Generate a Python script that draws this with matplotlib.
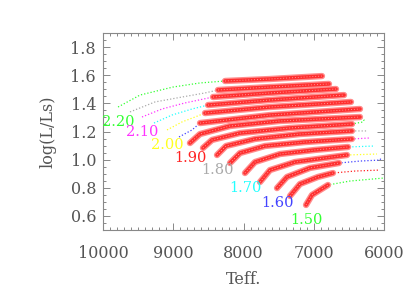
import matplotlib
matplotlib.use('Agg')
import matplotlib.pyplot as plt
from matplotlib.ticker import MultipleLocator, FixedLocator

# ---- data ----
MASSES = [2.20, 2.15, 2.10, 2.05, 2.00, 1.95, 1.90, 1.85,
          1.80, 1.75, 1.70, 1.65, 1.60, 1.55, 1.50]
LABELED = [2.20, 2.10, 2.00, 1.90, 1.80, 1.70, 1.60, 1.50]
TRACK_COLORS = ['#33ff33', '#aaaaaa', '#ff33ff', '#22ffff', '#ffff22', '#4444ff', '#ff2222',
                '#33ff33', '#aaaaaa', '#ff33ff', '#22ffff', '#ffff22', '#4444ff', '#ff2222',
                '#33ff33']

TEFF = [
    [9786, 9473, 9004, 8619, 8263, 7623, 6883],
    [9616, 9260, 8875, 8548, 8363, 7623, 6783],
    [9445, 9160, 8833, 8434, 7623, 6683],
    [9274, 9018, 8733, 8505, 7623, 6569],
    [9089, 8875, 8690, 8548, 7623, 6470],
    [8918, 8733, 8619, 7623, 6342],
    [8762, 8619, 8192, 7480, 6342],
    [8577, 8448, 8050, 7338, 6456, 6299, 6285, 6327],
    [8377, 8249, 7836, 7196, 6456, 6242],
    [8192, 8050, 7694, 7125, 6456, 6199],
    [7979, 7836, 7480, 6982, 6512, 6128],
    [7765, 7623, 7267, 6840, 6527, 6100],
    [7523, 7381, 7053, 6641, 6342, 6057, 6043],
    [7338, 7196, 6940, 6726, 6413, 6057],
    [7110, 7025, 6797, 6484, 5986],
]
LOGL = [
    [1.374, 1.459, 1.516, 1.545, 1.559, 1.573, 1.594],
    [1.339, 1.410, 1.445, 1.474, 1.495, 1.516, 1.538],
    [1.303, 1.360, 1.403, 1.445, 1.474, 1.502],
    [1.260, 1.317, 1.360, 1.388, 1.424, 1.459],
    [1.211, 1.268, 1.303, 1.331, 1.374, 1.410],
    [1.161, 1.211, 1.260, 1.317, 1.360],
    [1.118, 1.182, 1.239, 1.275, 1.303],
    [1.083, 1.140, 1.189, 1.225, 1.253, 1.268, 1.282, 1.296],
    [1.033, 1.097, 1.147, 1.182, 1.204, 1.204],
    [0.976, 1.047, 1.097, 1.125, 1.147, 1.154],
    [0.905, 0.983, 1.040, 1.069, 1.090, 1.097],
    [0.841, 0.926, 0.983, 1.012, 1.033, 1.040],
    [0.798, 0.877, 0.941, 0.976, 0.990, 0.997, 1.012],
    [0.742, 0.827, 0.877, 0.905, 0.919, 0.926],
    [0.678, 0.749, 0.820, 0.848, 0.870],
]
# index range of each track inside the instability strip (red stars)
STRIP_FROM = [4, 4, 3, 3, 3, 2, 0, 0, 0, 0, 0, 0, 0, 0, 0]
STRIP_TO = [6, 6, 5, 5, 5, 4, 4, 4, 4, 4, 4, 4, 3, 3, 2]

X_TICKS = [10000, 9000, 8000, 7000, 6000]
Y_TICKS = [0.6, 0.8, 1.0, 1.2, 1.4, 1.6, 1.8]

# ---- figure ----
W, H = 415, 297
fig = plt.figure(figsize=(W / 100, H / 100), dpi=100)
ax = fig.add_axes([103 / W, 1 - 230 / H, (384 - 103) / W, (230 - 33) / H])

FONT = 'DejaVu Serif'
TXT = '#555555'
AXC = '#888888'

for i, m in enumerate(MASSES):
    t, l = TEFF[i], LOGL[i]
    c = TRACK_COLORS[i]
    ax.plot(t, l, color=c, lw=0.9, linestyle=(0, (1, 1.6)), zorder=2)
    a, b = STRIP_FROM[i], STRIP_TO[i] + 1
    ax.plot(t[a:b], l[a:b], color='#ff8c8c', lw=4.6, solid_capstyle='round',
            solid_joinstyle='round', zorder=3)
    ax.plot(t[a:b], l[a:b], color='#ff3030', lw=2.6, solid_capstyle='round',
            solid_joinstyle='round', zorder=4)
    ax.plot(t[a:b], l[a:b], color='#ffb0b0', lw=0.6, linestyle=(0, (1, 2.5)),
            zorder=4.5)
    if any(abs(m - q) < 1e-6 for q in LABELED):
        ax.annotate(f'{m:.2f}', xy=(t[0], l[0]), xytext=(0, -11),
                    textcoords='offset points', ha='center', va='center',
                    color=c, fontsize=10.5, family=FONT, zorder=5,
                    annotation_clip=False)

ax.set_xlim(10000, 6000)
ax.set_ylim(0.5, 1.9)
ax.xaxis.set_major_locator(FixedLocator(X_TICKS))
ax.yaxis.set_major_locator(FixedLocator(Y_TICKS))
ax.xaxis.set_minor_locator(MultipleLocator(100))
ax.yaxis.set_minor_locator(MultipleLocator(0.05))
ax.set_xticklabels([str(v) for v in X_TICKS])
ax.set_yticklabels([f'{v:.1f}' for v in Y_TICKS])

ax.tick_params(which='both', direction='in', top=True, right=True, color=AXC, width=0.7)
ax.tick_params(which='major', length=5)
ax.tick_params(which='minor', length=2.5)
ax.tick_params(axis='x', which='major', pad=11)
ax.tick_params(axis='y', which='major', pad=5)
for lab in ax.get_xticklabels() + ax.get_yticklabels():
    lab.set_family(FONT)
    lab.set_fontsize(11.5)
    lab.set_color(TXT)
for s in ax.spines.values():
    s.set_color(AXC)
    s.set_linewidth(0.8)

ax.set_xlabel('Teff.', family=FONT, fontsize=11.5, color=TXT, labelpad=6)
ax.set_ylabel('log(L/Ls)', family=FONT, fontsize=11.5, color=TXT, labelpad=10)

fig.savefig('out.png', dpi=100)
